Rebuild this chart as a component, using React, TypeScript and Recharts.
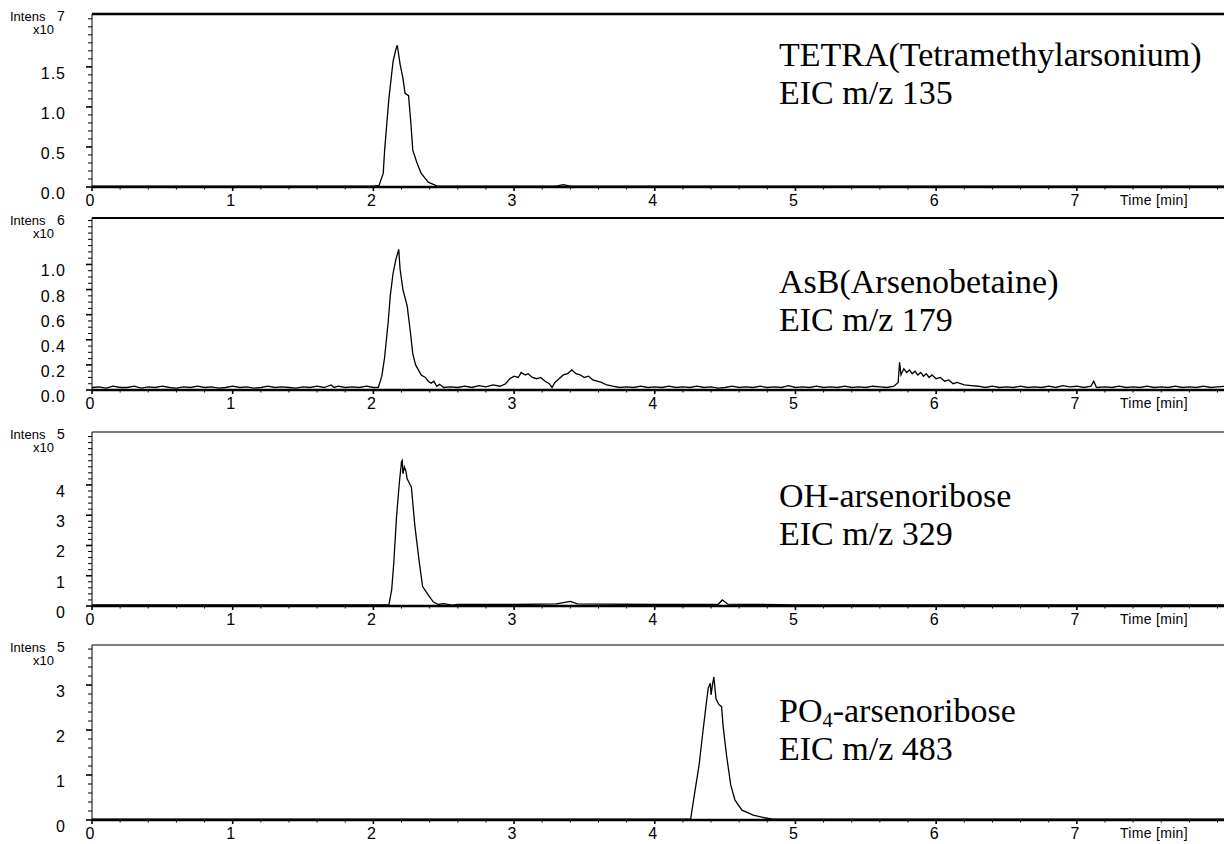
import { LineChart, Line, XAxis, YAxis, ReferenceLine } from "recharts";

// ---- data ----
// x axis: retention time in minutes, intensities in the panel's own unit (x10^n)

const xMajorTicks = [0, 1, 2, 3, 4, 5, 6, 7];

// TETRA, EIC m/z 135, x10^7
const tetraTime = [
  0, 0.5, 1.0, 1.5, 1.9, 2.0, 2.04, 2.07, 2.08, 2.095, 2.11, 2.14, 2.16, 2.17,
  2.19, 2.21, 2.225, 2.25, 2.265, 2.28, 2.31, 2.34, 2.39, 2.45, 2.6, 3.0, 3.3,
  3.35, 3.4, 3.6, 4.5, 5.5, 6.5, 7.5, 8.05,
];
const tetraIntens = [
  0.01, 0.01, 0.01, 0.01, 0.01, 0.01, 0.02, 0.17, 0.46, 0.78, 1.1, 1.57, 1.72,
  1.77, 1.53, 1.36, 1.17, 1.14, 0.83, 0.46, 0.3, 0.17, 0.06, 0.015, 0.01, 0.01,
  0.01, 0.03, 0.01, 0.01, 0.01, 0.01, 0.01, 0.01, 0.01,
];
const tetraTickLabels = ["0.0", "0.5", "1.0", "1.5"];

// AsB, EIC m/z 179, x10^6
const asbTime = [
  0.0, 0.05, 0.1, 0.15, 0.2, 0.25, 0.3, 0.35, 0.4, 0.45, 0.5, 0.55, 0.6, 0.65,
  0.7, 0.75, 0.8, 0.85, 0.9, 0.95, 1.0, 1.05, 1.1, 1.15, 1.2, 1.25, 1.3, 1.35,
  1.4, 1.45, 1.5, 1.55, 1.6, 1.65, 1.7, 1.72, 1.75, 1.8, 1.85, 1.9, 1.95, 2.0,
  2.035, 2.06, 2.08, 2.105, 2.12, 2.14, 2.16, 2.18, 2.19, 2.21, 2.24, 2.26,
  2.28, 2.3, 2.32, 2.34, 2.37, 2.39, 2.41, 2.43, 2.45, 2.47, 2.5, 2.55, 2.6,
  2.65, 2.7, 2.75, 2.8, 2.85, 2.9, 2.94, 2.97, 3.0, 3.03, 3.05, 3.08, 3.1,
  3.13, 3.16, 3.19, 3.22, 3.25, 3.27, 3.29, 3.32, 3.35, 3.38, 3.41, 3.44, 3.47,
  3.5, 3.53, 3.56, 3.59, 3.62, 3.66, 3.7, 3.75, 3.8, 3.85, 3.9, 3.95, 4.0,
  4.05, 4.1, 4.15, 4.2, 4.25, 4.3, 4.35, 4.4, 4.45, 4.5, 4.55, 4.6, 4.65, 4.7,
  4.75, 4.8, 4.85, 4.9, 4.95, 5.0, 5.05, 5.1, 5.15, 5.2, 5.25, 5.3, 5.35, 5.4,
  5.45, 5.5, 5.55, 5.6, 5.65, 5.7, 5.73, 5.74, 5.75, 5.77, 5.79, 5.81, 5.83,
  5.85, 5.87, 5.89, 5.91, 5.93, 5.95, 5.97, 6.0, 6.03, 6.06, 6.09, 6.12, 6.15,
  6.2, 6.25, 6.3, 6.35, 6.4, 6.45, 6.5, 6.55, 6.6, 6.65, 6.7, 6.75, 6.8, 6.85,
  6.9, 6.95, 7.0, 7.05, 7.1, 7.12, 7.14, 7.2, 7.25, 7.3, 7.35, 7.4, 7.45, 7.5,
  7.55, 7.6, 7.65, 7.7, 7.75, 7.8, 7.85, 7.9, 7.95, 8.0, 8.05,
];
const asbIntens = [
  0.02, 0.025, 0.015, 0.03, 0.02, 0.02, 0.03, 0.015, 0.025, 0.02, 0.03, 0.02,
  0.015, 0.025, 0.02, 0.03, 0.02, 0.025, 0.015, 0.02, 0.03, 0.02, 0.025, 0.015,
  0.02, 0.03, 0.02, 0.025, 0.02, 0.015, 0.025, 0.02, 0.03, 0.02, 0.04, 0.02,
  0.03, 0.02, 0.025, 0.02, 0.03, 0.02,
  0.02, 0.11, 0.26, 0.54, 0.75, 0.93, 1.04, 1.12, 0.96, 0.8, 0.67, 0.49, 0.29,
  0.2, 0.16, 0.12, 0.1, 0.07, 0.055, 0.07, 0.03, 0.045, 0.02, 0.025, 0.02,
  0.03, 0.02, 0.035, 0.025, 0.04, 0.03, 0.05, 0.09, 0.11, 0.1, 0.14, 0.12,
  0.13, 0.1, 0.09, 0.1, 0.07, 0.05, 0.02, 0.06, 0.09, 0.12, 0.13, 0.16, 0.13,
  0.12, 0.1, 0.11, 0.08, 0.07, 0.06, 0.04, 0.03, 0.02, 0.025, 0.02, 0.03,
  0.02, 0.025, 0.02, 0.03, 0.02, 0.025, 0.02, 0.03, 0.02, 0.025, 0.015, 0.02,
  0.03, 0.02, 0.025, 0.02, 0.03, 0.02, 0.025, 0.02, 0.035, 0.02, 0.025, 0.02,
  0.03, 0.02, 0.025, 0.02, 0.03, 0.02, 0.025, 0.02, 0.03, 0.025, 0.02, 0.03,
  0.06, 0.22, 0.12, 0.17, 0.14, 0.16, 0.13, 0.15, 0.12, 0.14, 0.11, 0.13, 0.1,
  0.12, 0.09, 0.1, 0.07, 0.08, 0.05, 0.06, 0.04, 0.035, 0.03, 0.02, 0.03, 0.02,
  0.025, 0.02, 0.03, 0.02, 0.025, 0.02, 0.03, 0.02, 0.035, 0.025, 0.03, 0.02,
  0.03, 0.07, 0.02, 0.025, 0.02, 0.03, 0.02, 0.025, 0.02, 0.03, 0.02, 0.025,
  0.02, 0.03, 0.02, 0.025, 0.02, 0.03, 0.02, 0.025, 0.03,
];
const asbTickLabels = ["0.0", "0.2", "0.4", "0.6", "0.8", "1.0"];

// OH-arsenoribose, EIC m/z 329, x10^5
const ohTime = [
  0, 0.5, 1.0, 1.5, 2.0, 2.11, 2.13, 2.145, 2.165, 2.185, 2.2, 2.205, 2.21,
  2.22, 2.23, 2.24, 2.27, 2.295, 2.33, 2.35, 2.39, 2.425, 2.46, 2.5, 2.56, 2.6,
  3.0, 3.3, 3.4, 3.45, 4.0, 4.45, 4.48, 4.52, 5.0, 6.0, 7.0, 8.05,
];
const ohIntens = [
  0.04, 0.04, 0.04, 0.04, 0.04, 0.04, 0.53, 1.43, 2.98, 4.1, 4.77, 4.81, 4.37,
  4.6, 4.48, 4.2, 3.93, 2.64, 1.31, 0.64, 0.37, 0.14, 0.05, 0.08, 0.03, 0.05,
  0.05, 0.07, 0.15, 0.07, 0.05, 0.05, 0.2, 0.06, 0.04, 0.04, 0.04, 0.04,
];
const ohTickLabels = ["0", "1", "2", "3", "4"];

// PO4-arsenoribose, EIC m/z 483, x10^5
const po4Time = [
  0, 2.0, 4.0, 4.255, 4.285, 4.315, 4.345, 4.365, 4.38, 4.395, 4.4, 4.41,
  4.42, 4.435, 4.455, 4.475, 4.485, 4.51, 4.54, 4.57, 4.62, 4.7, 4.78, 4.84,
  6.0, 8.05,
];
const po4Intens = [
  0.02, 0.02, 0.02, 0.02, 0.63, 1.22, 2.04, 2.56, 2.93, 3.04, 2.78, 3.0, 3.18,
  2.7, 2.57, 2.52, 2.11, 1.44, 0.78, 0.44, 0.22, 0.11, 0.05, 0.02, 0.02, 0.02,
];
const po4TickLabels = ["0", "1", "2", "3"];

// ---- layout ----
const W = 1224;
const PLOT_LEFT = 92;
const X_MAX = 8.046;
const TOP_PAD = 10;
const AXIS_H = 32;
const sans = "'Liberation Sans', Arial, sans-serif";
const serif = "'Liberation Serif', 'Times New Roman', serif";

const steps = (stop: number, step: number) => {
  const out: number[] = [];
  for (let i = 0; i * step <= stop + 1e-9; i++) out.push(+(i * step).toFixed(3));
  return out;
};

const xMinorTicks = steps(8.0, 0.2);

type PanelProps = {
  time: number[];
  intens: number[];
  yMax: number;
  tickLabels: string[];
  minorStep: number;
  plotTop: number;
  plotBottom: number;
  topStroke: number;
  exponent: string;
  title: React.ReactNode;
  subtitle: string;
  titleTop: number;
};

function Panel({
  time,
  intens,
  yMax,
  tickLabels,
  minorStep,
  plotTop,
  plotBottom,
  topStroke,
  exponent,
  title,
  subtitle,
  titleTop,
}: PanelProps) {
  const data = time.map((t, i) => ({ t, v: intens[i] }));
  const plotH = plotBottom - plotTop;
  const majors = tickLabels.map(Number);
  const yTicks = steps(yMax, minorStep);

  const YTick = (props: any) => {
    const { x, y, payload } = props;
    const idx = majors.findIndex((m) => Math.abs(m - payload.value) < 1e-6);
    const major = idx >= 0;
    return (
      <g>
        <line x1={x - (major ? 6 : 4)} x2={x} y1={y} y2={y} stroke="#000" strokeWidth={major ? 1.6 : 1} />
        {major && (
          <text x={x - 26} y={y + 12} textAnchor="end" fontFamily={sans} fontSize={16} letterSpacing={1} fill="#000">
            {tickLabels[idx]}
          </text>
        )}
      </g>
    );
  };

  const XTick = (props: any) => {
    const { x, y, payload } = props;
    const major = xMajorTicks.some((m) => Math.abs(m - payload.value) < 1e-6);
    return (
      <g>
        <line x1={x} x2={x} y1={y} y2={y + (major ? 4 : 2.5)} stroke="#000" strokeWidth={major ? 1.6 : 1} />
        {major && (
          <text x={x - 2} y={y + 19} textAnchor="middle" fontFamily={sans} fontSize={16} fill="#000">
            {payload.value}
          </text>
        )}
      </g>
    );
  };

  return (
    <div style={{ position: "absolute", left: 0, top: plotTop - TOP_PAD, width: W, height: TOP_PAD + plotH + AXIS_H }}>
      <LineChart
        width={W}
        height={TOP_PAD + plotH + AXIS_H}
        data={data}
        margin={{ top: TOP_PAD, right: 0, bottom: 0, left: 0 }}
      >
        <XAxis
          type="number"
          dataKey="t"
          domain={[0, X_MAX]}
          ticks={xMinorTicks}
          tick={<XTick />}
          tickLine={false}
          tickSize={0}
          tickMargin={0}
          height={AXIS_H}
          axisLine={{ stroke: "#000", strokeWidth: 2.5 }}
          interval={0}
          allowDataOverflow
        />
        <YAxis
          type="number"
          domain={[0, yMax]}
          ticks={yTicks}
          tick={<YTick />}
          tickLine={false}
          tickSize={0}
          tickMargin={0}
          width={PLOT_LEFT}
          axisLine={{ stroke: "#000", strokeWidth: 1 }}
          interval={0}
          allowDataOverflow
        />
        <ReferenceLine y={yMax} stroke="#000" strokeWidth={topStroke} />
        <Line
          type="linear"
          dataKey="v"
          stroke="#000"
          strokeWidth={1.3}
          dot={false}
          isAnimationActive={false}
        />
      </LineChart>
      {/* intensity label */}
      <div style={{ position: "absolute", left: 10, top: TOP_PAD - 4, fontFamily: sans, fontSize: 13, lineHeight: "13px" }}>
        Intens
      </div>
      <div style={{ position: "absolute", left: 57, top: TOP_PAD - 5, fontFamily: sans, fontSize: 14, lineHeight: "14px" }}>
        {exponent}
      </div>
      <div style={{ position: "absolute", left: 33, top: TOP_PAD + 9, fontFamily: sans, fontSize: 13, lineHeight: "13px" }}>
        x10
      </div>
      <div
        style={{
          position: "absolute",
          left: 1120,
          top: TOP_PAD + plotH + 5,
          fontFamily: sans,
          fontSize: 14,
          lineHeight: "16px",
          letterSpacing: 0.3,
        }}
      >
        Time [min]
      </div>
      <div
        style={{
          position: "absolute",
          left: 779,
          top: titleTop - plotTop + TOP_PAD,
          fontFamily: serif,
          fontSize: 34,
          lineHeight: "38px",
          whiteSpace: "nowrap",
        }}
      >
        <div>{title}</div>
        <div>{subtitle}</div>
      </div>
    </div>
  );
}

export default function App() {
  return (
    <div style={{ position: "absolute", left: 0, top: 0, width: W, height: 844, overflow: "hidden", background: "#fff" }}>
      <Panel
        time={tetraTime}
        intens={tetraIntens}
        yMax={2.16}
        tickLabels={tetraTickLabels}
        minorStep={0.1}
        plotTop={14}
        plotBottom={187}
        topStroke={2.5}
        exponent="7"
        title="TETRA(Tetramethylarsonium)"
        subtitle="EIC m/z 135"
        titleTop={36}
      />
      <Panel
        time={asbTime}
        intens={asbIntens}
        yMax={1.37}
        tickLabels={asbTickLabels}
        minorStep={0.05}
        plotTop={218}
        plotBottom={390}
        topStroke={2}
        exponent="6"
        title="AsB(Arsenobetaine)"
        subtitle="EIC m/z 179"
        titleTop={263}
      />
      <Panel
        time={ohTime}
        intens={ohIntens}
        yMax={5.75}
        tickLabels={ohTickLabels}
        minorStep={0.2}
        plotTop={432}
        plotBottom={606}
        topStroke={1.2}
        exponent="5"
        title="OH-arsenoribose"
        subtitle="EIC m/z 329"
        titleTop={477}
      />
      <Panel
        time={po4Time}
        intens={po4Intens}
        yMax={3.89}
        tickLabels={po4TickLabels}
        minorStep={0.2}
        plotTop={645}
        plotBottom={820}
        topStroke={1.2}
        exponent="5"
        title={
          <>
            PO<sub style={{ fontSize: "0.6em", verticalAlign: "-0.25em", lineHeight: 0 }}>4</sub>-arsenoribose
          </>
        }
        subtitle="EIC m/z 483"
        titleTop={692}
      />
    </div>
  );
}
